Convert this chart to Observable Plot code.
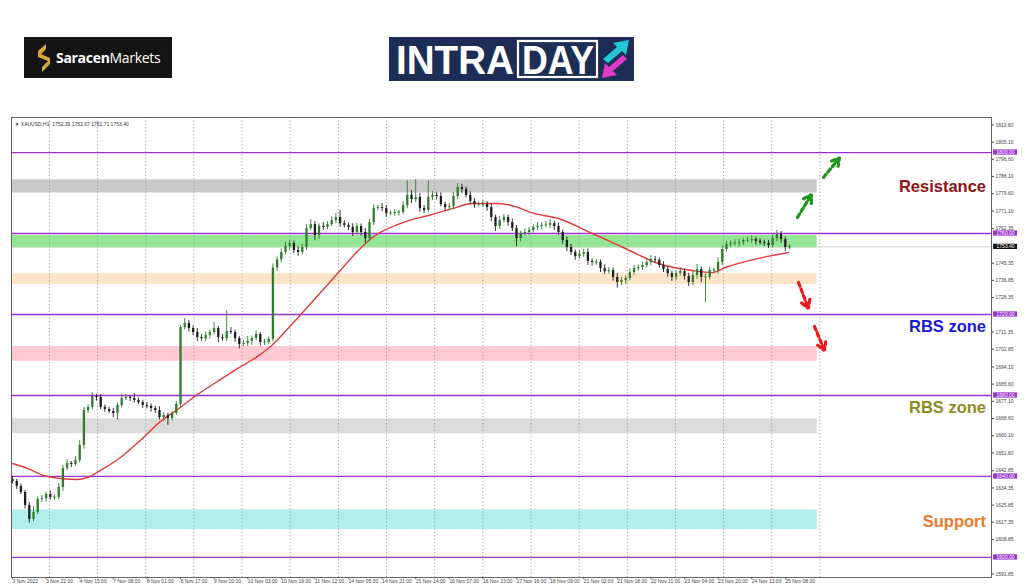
<!DOCTYPE html>
<html><head><meta charset="utf-8">
<script src="https://cdn.jsdelivr.net/npm/d3@7"></script>
<script src="https://cdn.jsdelivr.net/npm/@observablehq/plot@0.6"></script>
<style>
body{margin:0;background:#fff;font-family:"Liberation Sans",Arial,sans-serif;}
#hdr{position:relative;width:1024px;height:116px;}
#sar{position:absolute;left:24px;top:37px;width:148px;height:41px;background:#141414;}
#sar span.t{position:absolute;left:32px;top:11px;color:#fff;font-family:"Open Sans",sans-serif;font-size:14px;letter-spacing:-0.3px;}
#intra{position:absolute;left:389px;top:29px;width:245px;height:60px;overflow:visible;}
</style></head>
<body>
<div id="hdr">
  <div id="sar">
    <svg width="30" height="41" style="position:absolute;left:6px;top:0">
      <path d="M16 7 L8 14 L8 20 L18 24 L12 30 L12 35 L20 27 L20 21 L11 17 L16 12 Z" fill="#d9a53a"/>
    </svg>
    <span class="t"><b>Saracen</b>Markets</span>
  </div>
  <svg id="intra" width="245" height="60">
    <rect x="0" y="8" width="245" height="44" fill="#1c2e56"/>
    <text x="7" y="45" fill="#fff" font-family="Liberation Sans, Arial, sans-serif" font-weight="bold" font-size="40" textLength="118" lengthAdjust="spacingAndGlyphs">INTRA</text>
    <rect x="129" y="12" width="79" height="36" fill="none" stroke="#fff" stroke-width="2.2"/>
    <text x="133" y="45" fill="#fff" font-family="Liberation Sans, Arial, sans-serif" font-weight="bold" font-size="40" textLength="72" lengthAdjust="spacingAndGlyphs">DAY</text>
    <polygon points="214,30 228,18 224,14 240,11 237,26 233,22 219,34" fill="#25c6d6"/>
    <polygon points="238,30 224,42 228,46 213,49 216,34 220,38 234,26" fill="#e23ac8"/>
  </svg>
</div>
<div id="chart"></div>
<script>
// ---- data (hourly chart, one candle per 2 hours; hour index = 2*j) ----
const closes = [
1637.5,1635.1,1632.1,1625.7,1618.8,1622.2,1628.6,1629.1,1631.1,1629.6,
1629.6,1634.6,1644.0,1646.4,1645.9,1647.9,1655.3,1672.6,1674.1,1679.5,
1679.0,1674.1,1673.1,1672.1,1671.1,1675.1,1678.5,1679.0,1678.5,1677.5,
1676.5,1675.1,1674.6,1673.6,1672.6,1669.1,1670.1,1668.6,1671.1,1675.6,
1713.6,1715.6,1713.1,1711.1,1708.6,1708.1,1709.6,1711.1,1713.1,1708.6,
1708.1,1711.6,1711.1,1708.1,1705.2,1705.7,1706.7,1708.1,1710.1,1706.2,
1706.2,1707.7,1743.0,1747.0,1750.6,1753.6,1755.1,1751.6,1750.6,1753.1,
1762.5,1764.4,1759.0,1763.5,1763.0,1764.4,1766.4,1767.9,1764.9,1764.0,
1763.0,1760.5,1763.5,1760.5,1757.5,1765.4,1772.3,1772.8,1772.3,1769.9,
1769.9,1770.4,1770.4,1773.8,1778.8,1776.8,1777.8,1772.3,1771.4,1777.8,
1778.8,1778.3,1774.3,1772.8,1773.3,1778.3,1782.7,1781.7,1778.8,1775.8,
1774.3,1774.3,1774.3,1772.8,1767.9,1763.5,1766.4,1767.9,1765.4,1762.5,
1757.5,1760.0,1760.5,1761.5,1763.0,1763.5,1764.0,1764.0,1764.9,1763.5,
1760.5,1756.5,1753.1,1750.6,1748.6,1749.6,1750.6,1746.2,1745.7,1745.7,
1742.7,1741.2,1741.7,1738.3,1735.8,1736.8,1737.8,1740.7,1742.7,1743.2,
1744.2,1745.7,1747.2,1746.7,1744.2,1742.2,1740.2,1738.3,1740.2,1741.2,
1738.8,1735.8,1739.3,1742.2,1738.3,1738.3,1741.7,1741.7,1745.7,1752.1,
1754.6,1755.1,1755.1,1755.6,1756.5,1756.5,1757.0,1756.0,1755.6,1755.1,
1754.1,1757.5,1759.5,1757.0,1753.1,1753.4];
const firstOpen = 1638.5;
// upper / lower wick lengths (price units), estimated
const wickUp = [
1.5,1.0,1.2,1.0,1.5,3.0,1.2,1.5,1.0,1.8,
1.2,2.0,1.5,1.8,1.0,2.0,2.5,1.5,1.2,2.0,
1.0,1.5,1.2,1.0,1.5,1.2,1.8,1.5,1.0,2.5,
1.2,1.0,1.5,1.2,1.0,1.8,1.5,1.2,1.0,1.5,
1.0,1.5,1.5,1.2,2.0,1.5,1.8,1.2,3.0,1.0,
1.5,1.5,2.0,1.2,1.0,1.5,2.5,1.2,1.8,1.0,
1.5,1.2,2.0,1.5,1.8,2.0,1.5,1.2,1.8,1.5,
1.8,2.5,1.5,1.2,2.0,1.5,1.8,2.0,1.5,1.5,
1.2,1.8,1.5,1.2,2.0,1.5,1.8,1.2,2.0,1.5,
1.2,1.5,1.0,1.8,1.5,2.5,1.5,2.0,1.5,1.5,
2.0,1.5,1.8,1.2,1.5,2.0,1.5,1.5,1.2,1.8,
1.5,1.2,2.0,1.5,1.8,1.2,2.0,1.5,1.2,1.8,
1.5,1.2,1.8,1.5,1.2,2.0,1.5,1.8,2.0,1.2,
1.5,1.2,1.8,1.5,1.2,2.0,1.5,1.8,1.2,1.5,
1.2,1.8,1.5,1.2,2.0,1.5,1.2,1.8,1.5,1.2,
1.8,1.5,2.0,1.5,1.2,1.8,1.5,1.2,1.5,1.8,
1.2,1.5,2.0,2.5,1.2,1.8,1.5,1.2,1.5,1.8,
1.5,1.2,1.8,1.5,1.2,1.5,1.8,1.2,1.5,1.2,
1.5,1.8,1.5,1.5,1.2,1.0];
const wickDn = [
1.2,1.5,1.0,1.8,1.5,1.2,1.0,1.5,1.8,1.2,
1.5,1.0,1.8,1.2,1.5,1.0,1.2,1.8,1.5,1.2,
1.8,1.2,1.5,1.0,2.0,1.5,1.2,1.0,1.5,1.2,
1.0,1.5,1.2,1.8,1.5,1.2,2.0,1.5,1.2,1.0,
1.5,1.2,1.8,1.5,2.0,1.2,1.5,1.8,1.2,2.5,
1.2,1.5,1.0,1.8,1.5,1.2,1.5,2.0,1.2,1.8,
1.5,1.0,1.2,1.8,1.5,1.2,2.0,1.5,1.8,1.2,
1.5,1.2,2.5,1.8,1.5,1.2,1.0,1.5,1.8,1.2,
1.5,2.0,1.2,1.8,2.5,1.2,1.5,1.0,1.5,1.8,
1.2,1.5,1.8,1.2,1.5,2.0,1.5,1.8,1.5,1.2,
1.5,1.8,1.2,2.0,1.5,1.2,1.5,1.8,1.2,1.5,
1.8,1.2,1.5,1.8,2.0,2.5,1.5,1.2,1.8,1.5,
1.5,1.8,1.2,1.5,1.2,1.5,1.8,1.2,1.5,2.0,
1.5,1.8,2.0,1.5,1.8,1.2,1.5,2.0,1.8,1.5,
2.0,1.5,1.2,1.8,1.5,1.5,1.8,1.2,1.5,1.2,
1.5,1.2,1.8,1.5,1.2,1.5,1.8,2.0,1.5,1.2,
1.8,2.0,1.5,1.8,2.5,1.5,1.2,1.5,1.8,1.5,
1.2,1.5,1.2,1.8,1.5,1.2,1.5,1.8,1.2,1.5,
1.5,1.2,1.5,1.8,2.0,1.0];
// notable wicks: [candle, high, low]
const spikes = [[4,null,1617.0],[25,null,1667.7],[37,null,1665.2],[41,1718.0,null],[51,1722.0,null],
[54,null,1703.0],[78,1771.4,null],[94,1786.0,null],[96,1786.5,null],[99,1786.0,null],[106,1784.7,null],
[120,null,1753.5],[144,null,1733.0],[165,null,1725.9],[168,1748.0,null],[182,1761.5,null]];

const maHours = [0,7.1,14.8,22.9,31.0,35.7,41.9,51.4,62.4,70.5,78.6,88.1,97.6,107.1,116.7,122.9,133.8,143.3,155.2,163.3,171.4,179.0,188.6,198.1,209.5,219.0,231.4,241.0,246.7,260.0,276.2,291.9,307.6,323.8,333.3,339.5,355.2,369.5];
const maValues = [1646.4,1644.0,1640.5,1639.0,1638.5,1639.5,1643.0,1649.4,1659.3,1667.2,1673.1,1680.5,1686.9,1693.3,1699.3,1704.2,1716.0,1726.9,1740.7,1750.1,1758.0,1762.5,1766.4,1768.9,1772.3,1774.8,1774.8,1772.8,1770.4,1767.4,1760.0,1752.6,1745.2,1741.7,1740.7,1743.2,1747.7,1750.6];

const levels = [1800, 1760, 1720, 1680, 1640, 1600];
const lastPrice = 1753.40;
const zoneLow  = [1780.0, 1752.9, 1734.8, 1696.9, 1661.1, 1613.8];
const zoneHigh = [1786.5, 1759.0, 1740.1, 1704.2, 1668.5, 1623.5];
const zoneColor = ["#c9c9c9", "#93e693", "#fde4c6", "#ffc9d3", "#dbdbdb", "#b3eeee"];
const zoneEnd = 383.2;

const yTicks = [1813.60,1805.10,1796.60,1788.10,1779.60,1771.10,1762.35,1745.35,1736.85,1728.35,1711.35,1702.85,1694.10,1685.60,1677.10,1668.60,1660.10,1651.60,1642.85,1634.35,1625.85,1617.35,1608.85,1591.85];
const xLabels = ["3 Nov 2022","3 Nov 22:00","4 Nov 15:00","7 Nov 08:00","8 Nov 01:00","8 Nov 17:00","9 Nov 10:00","10 Nov 03:00","10 Nov 19:00","11 Nov 12:00","14 Nov 05:00","14 Nov 21:00","15 Nov 14:00","16 Nov 07:00","16 Nov 23:00","17 Nov 16:00","18 Nov 09:00","21 Nov 02:00","21 Nov 18:00","22 Nov 11:00","23 Nov 04:00","23 Nov 20:00","24 Nov 13:00","25 Nov 08:00"];
const xLabelHours = xLabels.map((d, i) => i * 16);

const notes = ["Resistance", "RBS zone", "RBS zone", "Support"];
const notePrice = [1783.2, 1714.1, 1674.1, 1617.8];
const noteColor = ["#8e1414", "#1a1ad2", "#8c8c1c", "#f07a2e"];

const arrowsUp   = [[373.8,1767.9,380.5,1779.3],[386.2,1787.7,393.8,1797.3]];
const arrowsDown = [[374.3,1735.8,379.0,1723.0],[381.9,1714.1,386.7,1702.2]];

// ---- build ----
const candles = closes.map((c, i) => {
  const o = i ? closes[i - 1] : firstOpen;
  let hi = Math.max(o, c) + wickUp[i], lo = Math.min(o, c) - wickDn[i];
  const s = spikes.find(d => d[0] === i);
  if (s) { if (s[1] != null) hi = s[1]; if (s[2] != null) lo = s[2]; }
  const b1 = Math.min(o, c), b2 = Math.max(o, c);
  return {h: i * 2, o, c, hi, lo, b1: b2 - b1 < 0.5 ? b1 - 0.25 : b1, b2: b2 - b1 < 0.5 ? b2 + 0.25 : b2, up: c >= o};
});
const zones = zoneLow.map((l, i) => ({l, h: zoneHigh[i], f: zoneColor[i]}));
const ma = maHours.map((h, i) => ({h, v: maValues[i]}));
const annots = notes.map((t, i) => ({t, p: notePrice[i], f: noteColor[i]}));
const gridHours = d3.range(17).map(k => 17.6 + 22.93 * k);
const yMin = 1590.1, yMax = 1817.3;
const col = d => d.up ? "#2d7d2d" : "#1e1e1e";

const chart = Plot.plot({
  width: 1024, height: 471,
  marginLeft: 11, marginRight: 33, marginTop: 1, marginBottom: 10,
  style: {fontFamily: "Liberation Sans, Arial, sans-serif", fontSize: "5px", color: "#333", background: "#fff"},
  x: {domain: [-0.48, 466.2], axis: null},
  y: {domain: [yMin, yMax], axis: null},
  marks: [
    Plot.rect(zones, {x1: -0.48, x2: zoneEnd, y1: "l", y2: "h", fill: "f"}),
    Plot.ruleX(gridHours, {stroke: "#8a8a8a", strokeWidth: 0.8, strokeDasharray: "1.2,2.2"}),
    Plot.ruleY([lastPrice], {stroke: "#c8c8c8", strokeWidth: 0.8}),
    Plot.ruleY(levels, {stroke: "#9a32d2", strokeWidth: 1.3}),
    Plot.line(ma, {x: "h", y: "v", stroke: "#e23a3a", strokeWidth: 1.4, curve: "monotone-x"}),
    Plot.ruleX(candles, {x: "h", y1: "lo", y2: "hi", stroke: col, strokeWidth: 0.9}),
    Plot.ruleX(candles, {x: "h", y1: "b1", y2: "b2", stroke: col, strokeWidth: 2.3}),
    Plot.arrow(arrowsUp, {x1: d => d[0], y1: d => d[1], x2: d => d[2], y2: d => d[3], stroke: "#1d961d", strokeWidth: 3.2, strokeDasharray: "4,3", headLength: 9, bend: 0}),
    Plot.arrow(arrowsDown, {x1: d => d[0], y1: d => d[1], x2: d => d[2], y2: d => d[3], stroke: "#ec1c1c", strokeWidth: 3.2, strokeDasharray: "4,3", headLength: 9, bend: 0}),
    Plot.text(annots, {x: 463.6, y: "p", text: "t", fill: "f", textAnchor: "end", fontSize: 16.5, fontWeight: "bold", fontFamily: "Liberation Sans, Arial, sans-serif"}),
    Plot.frame({stroke: "#555", strokeWidth: 0.9}),
    Plot.text(["\u25BC XAUUSD,H1  1752.39 1753.67 1751.71 1753.40"], {frameAnchor: "top-left", dx: 3, dy: 5, textAnchor: "start", fill: "#333", fontSize: 5}),
    Plot.axisY(yTicks, {anchor: "right", tickSize: 2, tickPadding: 2, tickFormat: d => d.toFixed(2), fontSize: 5, stroke: "#444", fill: "#444"}),
    Plot.rect(levels, {x1: 467.2, x2: 478.6, y1: d => d - 1.3, y2: d => d + 1.3, fill: "#9a32d2"}),
    Plot.text(levels, {x: 472.9, y: d => d, text: d => d.toFixed(2), fill: "#fff", fontSize: 5}),
    Plot.rect([lastPrice], {x1: 467.2, x2: 478.6, y1: d => d - 1.3, y2: d => d + 1.3, fill: "#111"}),
    Plot.text([lastPrice], {x: 472.9, y: d => d, text: d => d.toFixed(2), fill: "#fff", fontSize: 5}),
    Plot.ruleX(xLabelHours, {y1: yMin, y2: yMin - 1.1, stroke: "#444", strokeWidth: 0.7}),
    Plot.text(xLabelHours, {x: d => d, text: (d, i) => xLabels[i], frameAnchor: "bottom", dy: 5, textAnchor: "start", fill: "#444", fontSize: 5})
  ]
});
document.getElementById("chart").appendChild(chart);
</script>
</body></html>
